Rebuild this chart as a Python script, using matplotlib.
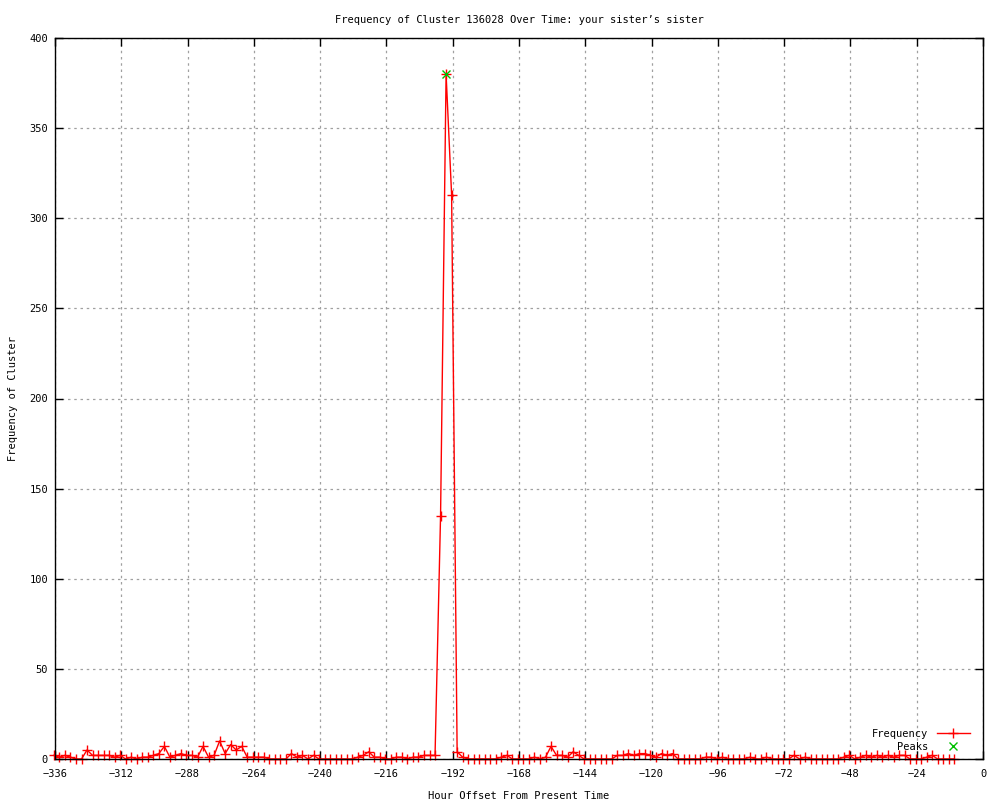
import numpy as np
import matplotlib
matplotlib.use("Agg")
import matplotlib.pyplot as plt

# cluster counts, one reading every 2 hours starting at -336
freq = [2, 1, 2, 1, 0, 0, 5, 2, 2, 2, 2, 1,
        2, 0, 1, 0, 1, 1, 2, 3, 7, 1, 2, 3, 2, 2,
        1, 7, 1, 2, 10, 3, 8, 5, 7, 1, 1, 1, 1,
        0, 0, 0, 0, 3, 1, 2, 0, 2,
        0, 0, 0, 0, 0, 0, 0, 1,
        2, 4, 1, 1, 0,
        0, 1, 1, 0, 1, 1, 2, 2, 2,
        135, 380, 313, 4, 1,
        0, 0, 0, 0, 0, 0,
        1, 2, 0, 0, 0, 0, 1, 0, 1,
        7, 2, 2, 1, 4, 2,
        0, 0, 0, 0, 0, 0,
        2, 2, 3, 2, 3, 3, 2, 1, 3, 2, 3,
        0, 0, 0, 0, 0, 1, 1, 0,
        1, 0, 0, 0, 0, 1, 0, 0, 1, 0, 0, 0, 0,
        2, 0, 1, 0, 0, 0, 0, 0, 0, 1, 2, 0,
        1, 2, 1, 2, 1, 2, 1, 2, 2, 0, 0, 0, 1, 2, 0, 0, 0, 0]
hours = [-336.4 + 2 * i for i in range(len(freq))]

peak_hours = [-194.4]
peak_vals = [380]

xticks = list(range(-336, 1, 24))
yticks = list(range(0, 401, 50))

plt.rcParams['font.family'] = ['DejaVu Sans Mono']
plt.rcParams['font.size'] = 7.5

fig = plt.figure(figsize=(10, 8), dpi=100)
ax = fig.add_axes([0.055, 0.05125, 0.928, 0.90125])

ax.plot(hours, freq, color='#ff0000', lw=1, marker='+', ms=7, mew=1,
        label='Frequency', clip_on=False)
ax.plot(peak_hours, peak_vals, ls='none', color='#00c000', marker='x',
        ms=6, mew=1, label='Peaks')

ax.set_xlim(-336, 0)
ax.set_ylim(0, 400)
ax.set_xticks(xticks)
ax.set_yticks(yticks)
ax.grid(True, color='#a0a0a0', ls=(0, (2, 3)), lw=0.9)
ax.tick_params(direction='in', top=True, right=True, length=6, width=1,
               labelsize=7.5)
ax.tick_params(axis='x', pad=7)
ax.tick_params(axis='y', pad=5)
for s in ax.spines.values():
    s.set_linewidth(1)

ax.set_xlabel('Hour Offset From Present Time', labelpad=9)
ax.set_ylabel('Frequency of Cluster', labelpad=8)
ax.set_title('Frequency of Cluster 136028 Over Time: your sister\u2019s sister',
             pad=11, fontsize=7.5)

leg = ax.legend(loc='lower right', bbox_to_anchor=(0.994, 0.0), frameon=False,
                markerfirst=False, handlelength=3.2, borderaxespad=0.3,
                labelspacing=0.3, fontsize=7.5)
for t in leg.get_texts():
    t.set_ha('right')

fig.savefig('out.png', dpi=100)
